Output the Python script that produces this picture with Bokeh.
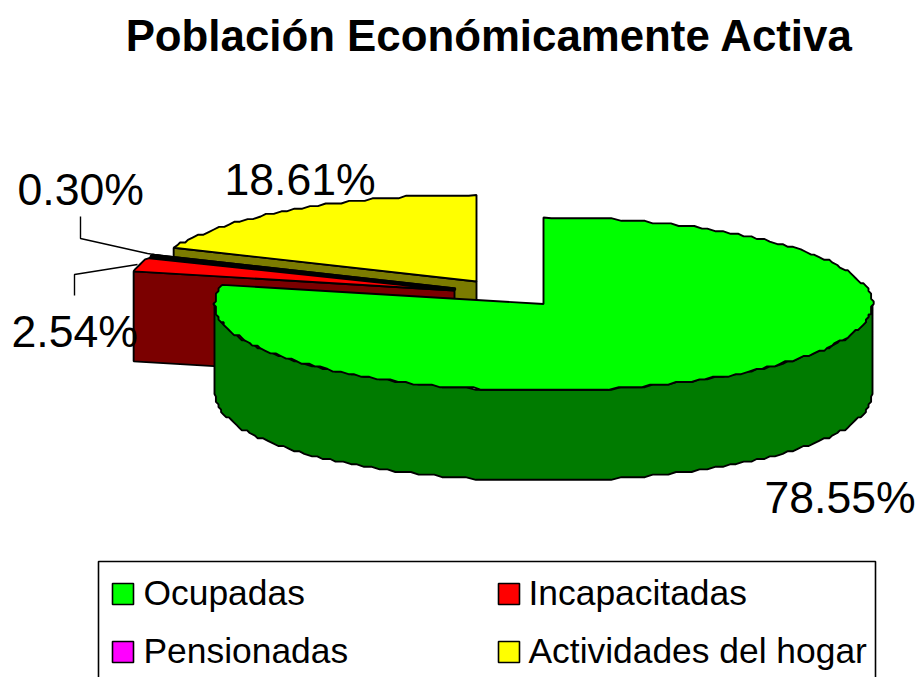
import numpy as np
from bokeh.plotting import figure
from bokeh.embed import file_html
from bokeh.resources import INLINE
from bokeh.core.properties import value
from bokeh.models import Range1d

title_text = "Población Económicamente Activa"
categories = ["Ocupadas", "Incapacitadas", "Pensionadas", "Actividades del hogar"]
shares = [78.55, 2.54, 0.30, 18.61]
share_labels = ["78.55%", "2.54%", "0.30%", "18.61%"]
top_colors = ["#00ff00", "#ff0000", "#ff00ff", "#ffff00"]
side_colors = ["#007b00", "#7b0000", "#000000", "#7b7b00"]

# pie geometry in page pixels
RX, RY, DEPTH = 329.0, 86.5, 90.0
apexes = [(543.0, 303.5), (454.0, 290.0), (455.0, 288.0), (476.0, 281.0)]
GRID = 2.6
FONT = value("Liberation Sans")

p = figure(width=919, height=677, output_backend="svg", toolbar_location=None,
           x_range=Range1d(0, 919), y_range=Range1d(677, 0),
           min_border=0, outline_line_color=None, margin=(0, 0, 0, 0))
p.xaxis.visible = False
p.yaxis.visible = False
p.grid.visible = False
p.background_fill_color = "white"
p.border_fill_color = "white"


def rim(a0, a1, apex):
    n = max(2, int(abs(a1 - a0) / 1.5) + 1)
    t = np.radians(np.linspace(a0, a1, n))
    xs = RX * np.sin(t)
    ys = -RY * np.cos(t)
    # the source drawing is coarse: its outline steps on a pixel grid
    xs = np.round(xs / GRID) * GRID
    ys = np.round(ys / GRID) * GRID
    # keep the exact end points of the sector
    xs[0], ys[0] = RX * np.sin(t[0]), -RY * np.cos(t[0])
    xs[-1], ys[-1] = RX * np.sin(t[-1]), -RY * np.cos(t[-1])
    return xs + apex[0], ys + apex[1]


bounds = np.concatenate([[0], np.cumsum(shares)]) * 3.6
LW = 1.9

order = [3, 2, 1, 0]
for i in order:
    a0, a1 = bounds[i], bounds[i + 1]
    ax, ay = apexes[i]
    rx_, ry_ = rim(a0, a1, apexes[i])
    if i == 0:
        # outer wall of the front part of the big sector
        fx, fy = rim(90, 270, apexes[i])
        wx = list(fx) + list(fx[::-1])
        wy = list(fy) + list(fy[::-1] + DEPTH)
        p.patch(wx, wy, fill_color=side_colors[i], line_color="black", line_width=LW)
    elif i == 2:
        # sliver: its cut face is seen as a dark wedge down to the next sector
        nx, ny = apexes[1]
        t1 = np.radians(a0)
        tipx, tipy = nx + RX * np.sin(t1), ny - RY * np.cos(t1)
        t2 = np.radians(a1)
        ux, uy = ax + RX * np.sin(t2), ay - RY * np.cos(t2)
        p.patch([ax, ux, tipx, nx], [ay, uy, tipy, ny],
                fill_color=side_colors[i], line_color="black", line_width=LW)
    else:
        # cut face running from the centre to the first rim point
        x0, y0 = rx_[0], ry_[0]
        p.patch([ax, x0, x0, ax], [ay, y0, y0 + DEPTH, ay + DEPTH],
                fill_color=side_colors[i], line_color="black", line_width=LW)
    p.patch([ax] + list(rx_), [ay] + list(ry_),
            fill_color=top_colors[i], line_color="black", line_width=LW)

# leader lines
p.line([74, 74, 137], [295, 274, 264], line_color="black", line_width=1.4)
p.line([80, 80, 147, 172], [216, 238, 253, 257], line_color="black", line_width=1.4)

# title
p.text([489], [35], text=[title_text], text_font=FONT, text_font_size="43.8px",
       text_font_style="bold", text_align="center", text_baseline="alphabetic", text_color="black")

# slice labels
label_x = [764, 11, 17, 224]
label_y = [497, 331, 189, 179]
p.text(label_x, label_y, text=share_labels, text_font=FONT, text_font_size="44.6px",
       text_align="left", text_baseline="alphabetic", text_color="black")

# legend
p.patch([98, 875, 875, 98], [561, 561, 690, 690], fill_color="white",
        line_color="black", line_width=1.6)
sw_x = [112, 498, 112, 498]
sw_y = [583, 583, 641, 641]
tx_x = [143, 528, 143, 528]
tx_y = [592, 592, 650, 650]
SW = 21
for k in range(4):
    x, y = sw_x[k], sw_y[k]
    p.patch([x, x + SW, x + SW, x], [y, y, y + SW, y + SW], fill_color=top_colors[k],
            line_color="black", line_width=1.6)
p.text(tx_x, tx_y, text=categories, text_font=FONT, text_font_size="35.4px",
       text_align="left", text_baseline="alphabetic", text_color="black")

open("out.html", "w").write(file_html(p, INLINE))
